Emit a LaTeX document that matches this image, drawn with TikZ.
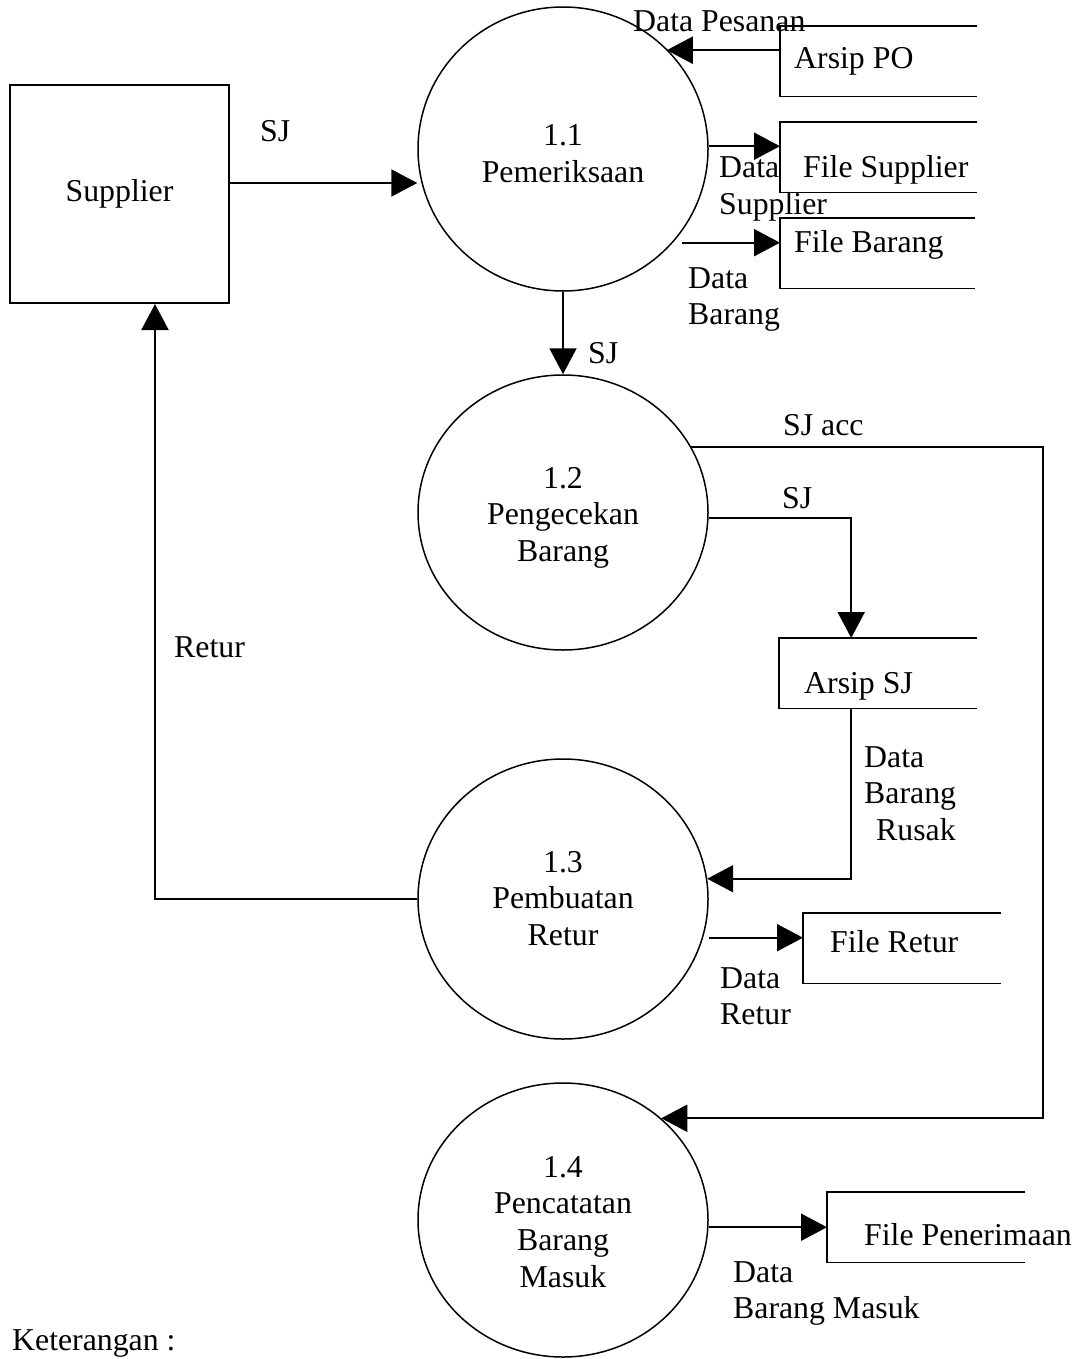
\documentclass[tikz,border=0pt]{standalone}
\usepackage{fontspec}
\setmainfont{Liberation Serif}
\usetikzlibrary{arrows.meta,shapes.geometric}
% multi-line labels aligned on the baseline of their first line
\newcommand{\stackL}[1]{\begin{tabular}[t]{@{}l@{}}#1\end{tabular}}
\newcommand{\stackC}[1]{\begin{tabular}[t]{@{}c@{}}#1\end{tabular}}

\begin{document}
\begin{tikzpicture}[x=1pt,y=-1pt,
  every node/.style={font=\fontsize{31.8pt}{36.7pt}\selectfont, inner sep=0pt},
  proc/.style={draw, ellipse, line width=1.5pt, minimum width=290pt},
  entity/.style={draw, rectangle, line width=2pt, minimum width=219pt, minimum height=218pt},
  store/.style={rectangle, anchor=north west, minimum height=70pt},
  storeline/.style={line width=1.6pt},
  flow/.style={line width=2pt, -{Triangle[length=26pt,width=27pt]}},
  txt/.style={anchor=base west},
  ptxt/.style={anchor=base},
]
\useasboundingbox (0,0) rectangle (1079,1359);

% external entity
\node[entity] (sup) at (119.5,194) {Supplier};

% processes
\node[proc, minimum height=284pt] (c11) at (563,149) {};
\node[proc, minimum height=275pt] (c12) at (563,512.5) {};
\node[proc, minimum height=280pt] (c13) at (563,899) {};
\node[proc, minimum height=274pt] (c14) at (563,1220) {};

\node[ptxt] (t11) at (563,146) {\stackC{1.1\\Pemeriksaan}};
\node[ptxt] (t12) at (563,488) {\stackC{1.2\\Pengecekan\\Barang}};
\node[ptxt] (t13) at (563,872) {\stackC{1.3\\Pembuatan\\Retur}};
\node[ptxt] (t14) at (563,1177) {\stackC{1.4\\Pencatatan\\Barang\\Masuk}};

% data stores (open on the right)
\node[store, minimum width=197pt] (po)  at (780,26)   {};
\node[store, minimum width=197pt] (fs)  at (780,122)  {};
\node[store, minimum width=195pt] (fb)  at (780,218)  {};
\node[store, minimum width=198pt] (asj) at (779,638)  {};
\node[store, minimum width=198pt] (fr)  at (803,913)  {};
\node[store, minimum width=198pt] (fp)  at (827,1192) {};
\foreach \s in {po,fs,fb,asj,fr,fp}
  \draw[storeline] (\s.north east) -- (\s.north west) -- (\s.south west) -- (\s.south east);

\node[txt] (npo)  at (794,69)   {Arsip PO};
\node[txt] (nfs)  at (803,178)  {File Supplier};
\node[txt] (nfb)  at (794,252)  {File Barang};
\node[txt] (nasj) at (804,693)  {Arsip SJ};
\node[txt] (nfr)  at (830,952)  {File Retur};
\node[txt] (nfp)  at (864,1245) {File Penerimaan};

% connector end points
\coordinate (supOut) at ([yshift=11pt]sup.east);
\coordinate (supIn)  at ([xshift=35.5pt]sup.south);
\coordinate (poOut)  at ([yshift=11pt]po.west);
\coordinate (fsIn)   at ([yshift=11pt]fs.west);
\coordinate (fbIn)   at ([yshift=10.5pt]fb.west);
\coordinate (asjIn)  at ([xshift=-27pt]asj.north);
\coordinate (asjOut) at ([xshift=-27pt]asj.south);
\coordinate (frIn)   at ([yshift=10.5pt]fr.west);
\coordinate (accx)   at (1043,0);

% data flows
\draw[flow] (supOut) -- (supOut -| c11.west);
\draw[flow] (poOut) -- (poOut -| c11.44);
\draw[flow] (fsIn -| c11.east) -- (fsIn);
\draw[flow] (fbIn -| c11.-35) -- (fbIn);
\draw[flow] (c11.south) -- (c12.north);
\draw[flow] (c12.27) -| (accx |- c14.46) -- (c14.46);
\draw[flow] (c12.-2) -| (asjIn);
\draw[flow] (asjOut) |- (c13.8);
\draw[flow] (frIn -| c13.east) -- (frIn);
\draw[flow] (c13.west) -| (supIn);
\draw[flow] (fp.west -| c14.east) -- (fp.west);

% flow labels
\node[txt] (lsj1)  at (260,142)  {SJ};
\node[txt] (lpes)  at (633,32)   {Data Pesanan};
\node[txt] (ldsup) at (719,178)  {\stackL{Data\\Supplier}};
\node[txt] (ldbrg) at (688,288)  {\stackL{Data\\Barang}};
\node[txt] (lsj2)  at (588,363)  {SJ};
\node[txt] (lacc)  at (783,435)  {SJ acc};
\node[txt] (lsj3)  at (782,508)  {SJ};
\node[txt] (lrus)  at (864,767)  {\stackL{Data\\Barang\\\hspace*{12pt}Rusak}};
\node[txt] (lret)  at (174,657)  {Retur};
\node[txt] (ldret) at (720,988)  {\stackL{Data\\Retur}};
\node[txt] (ldbm)  at (733,1282) {\stackL{Data\\Barang Masuk}};

\node[txt] (ket) at (12,1350) {Keterangan :};
\end{tikzpicture}
\end{document}
